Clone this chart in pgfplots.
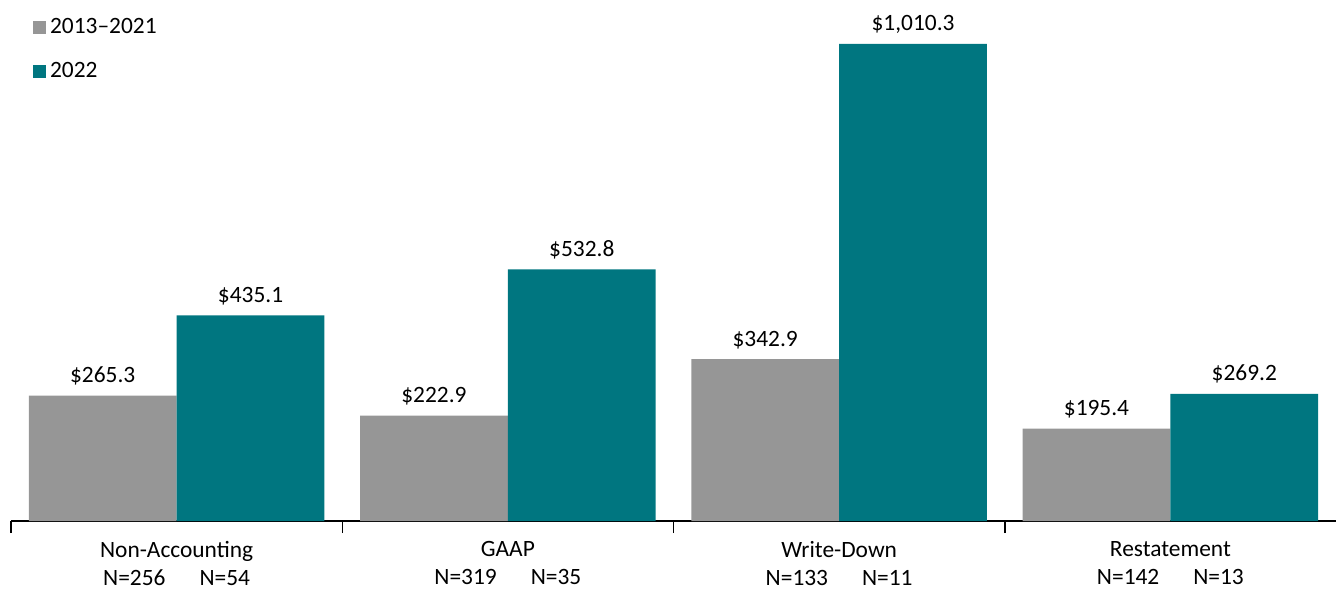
\documentclass[border=0pt]{standalone}
\usepackage{pgfplots}
\pgfplotsset{compat=1.18}
\usepackage{fontspec}
\setmainfont{Carlito}
\definecolor{cgrey}{RGB}{150,150,150}
\definecolor{cteal}{RGB}{0,118,128}
\begin{document}
\begin{tikzpicture}
\begin{axis}[
  scale only axis,
  width=662.5pt, height=260.5pt,
  xmin=0, xmax=4, ymin=0, ymax=1103,
  axis y line=none,
  axis x line=bottom,
  x axis line style={-, black, line width=0.75pt},
  xtick={0.5,1.5,2.5,3.5},
  xticklabels={{Non-Accounting\\N=256\hspace{17pt}N=54},
                {GAAP\\N=319\hspace{17pt}N=35},
                {Write-Down\\N=133\hspace{17pt}N=11},
                {Restatement\\N=142\hspace{17pt}N=13}},
  xticklabel style={align=center, font=\fontsize{11.7}{14.2}\selectfont, inner sep=0pt, yshift=-10pt},
  major tick length=0pt,
  tick align=outside,
  extra x ticks={0,1,2,3},
  extra x tick labels={},
  extra x tick style={major tick length=6pt, tick style={black, line width=0.75pt}},
  legend style={draw=none, fill=none, at={(0.012,0.981)}, anchor=north west,
    font=\fontsize{11.7}{14}\selectfont, row sep=9pt},
  legend cell align=left,
  nodes near coords,
  point meta=explicit symbolic,
  every node near coord/.append style={font=\fontsize{11.7}{14}\selectfont, anchor=south, inner sep=0pt, yshift=5pt, black},
]
\addplot[ybar, bar width=0.4462, bar shift=0pt, fill=cgrey, draw=none,
  legend image code/.code={\fill[cgrey] (0pt,-3.2pt) rectangle (6.4pt,3.2pt);}]
  coordinates {(0.2769,265.3) [\$265.3] (1.2769,222.9) [\$222.9] (2.2769,342.9) [\$342.9] (3.2769,195.4) [\$195.4]};
\addlegendentry{2013–2021}
\addplot[ybar, bar width=0.4462, bar shift=0pt, fill=cteal, draw=none,
  legend image code/.code={\fill[cteal] (0pt,-3.2pt) rectangle (6.4pt,3.2pt);}]
  coordinates {(0.7231,435.1) [\$435.1] (1.7231,532.8) [\$532.8] (2.7231,1010.3) [\$1,010.3] (3.7231,269.2) [\$269.2]};
\addlegendentry{2022}
\end{axis}
\pgfresetboundingbox
\path ([xshift=-5.5pt]current axis.north west) rectangle ([yshift=-34.5pt]current axis.south east);
\end{tikzpicture}
\end{document}
